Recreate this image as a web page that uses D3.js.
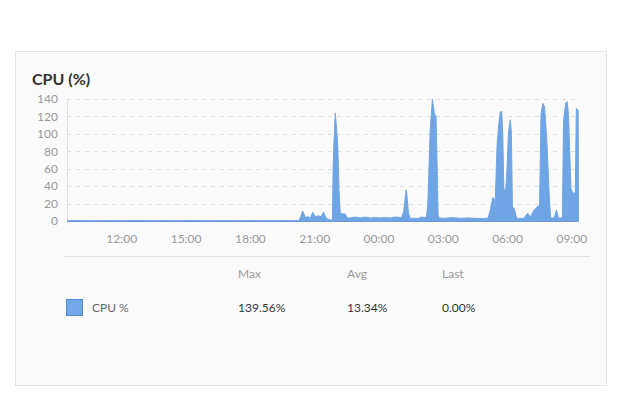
<!DOCTYPE html>
<html>
<head>
<meta charset="utf-8">
<script src="https://cdn.jsdelivr.net/npm/d3@7/dist/d3.min.js"></script>
<style>
  html, body { margin: 0; padding: 0; background: #fff; }
  svg { display: block; font-family: Lato, "Open Sans", sans-serif; }
</style>
</head>
<body>
<svg id="chart" width="623" height="396"></svg>
<script>
// sample times (day 1 -> day 2) and CPU % values
const times = [
  "2024-05-14T09:28", "2024-05-14T10:00", "2024-05-14T10:40", "2024-05-14T11:20", "2024-05-14T12:00",
  "2024-05-14T12:40", "2024-05-14T13:20", "2024-05-14T14:00", "2024-05-14T14:40", "2024-05-14T15:20",
  "2024-05-14T16:00", "2024-05-14T16:40", "2024-05-14T17:20", "2024-05-14T18:00", "2024-05-14T18:40",
  "2024-05-14T19:20", "2024-05-14T20:00", "2024-05-14T20:18", "2024-05-14T20:22", "2024-05-14T20:28",
  "2024-05-14T20:35", "2024-05-14T20:43", "2024-05-14T20:49", "2024-05-14T20:56", "2024-05-14T21:03",
  "2024-05-14T21:12", "2024-05-14T21:19", "2024-05-14T21:26", "2024-05-14T21:34", "2024-05-14T21:43",
  "2024-05-14T21:51", "2024-05-14T21:53", "2024-05-14T21:55", "2024-05-14T21:59", "2024-05-14T22:02",
  "2024-05-14T22:06", "2024-05-14T22:10", "2024-05-14T22:13", "2024-05-14T22:21", "2024-05-14T22:27",
  "2024-05-14T22:32", "2024-05-14T22:41", "2024-05-14T22:55", "2024-05-14T23:09", "2024-05-14T23:23",
  "2024-05-14T23:37", "2024-05-14T23:51", "2024-05-15T00:05", "2024-05-15T00:19", "2024-05-15T00:33",
  "2024-05-15T00:47", "2024-05-15T01:05", "2024-05-15T01:11", "2024-05-15T01:17", "2024-05-15T01:19",
  "2024-05-15T01:24", "2024-05-15T01:29", "2024-05-15T01:51", "2024-05-15T02:01", "2024-05-15T02:14",
  "2024-05-15T02:18", "2024-05-15T02:25", "2024-05-15T02:30", "2024-05-15T02:31", "2024-05-15T02:37",
  "2024-05-15T02:41", "2024-05-15T02:44", "2024-05-15T02:47", "2024-05-15T02:50", "2024-05-15T03:07",
  "2024-05-15T03:26", "2024-05-15T03:49", "2024-05-15T04:11", "2024-05-15T04:34", "2024-05-15T04:56",
  "2024-05-15T05:07", "2024-05-15T05:13", "2024-05-15T05:20", "2024-05-15T05:27", "2024-05-15T05:32",
  "2024-05-15T05:36", "2024-05-15T05:41", "2024-05-15T05:45", "2024-05-15T05:48", "2024-05-15T05:51",
  "2024-05-15T05:56", "2024-05-15T06:00", "2024-05-15T06:04", "2024-05-15T06:09", "2024-05-15T06:12",
  "2024-05-15T06:15", "2024-05-15T06:20", "2024-05-15T06:26", "2024-05-15T06:32", "2024-05-15T06:46",
  "2024-05-15T06:58", "2024-05-15T07:05", "2024-05-15T07:14", "2024-05-15T07:25", "2024-05-15T07:31",
  "2024-05-15T07:35", "2024-05-15T07:40", "2024-05-15T07:45", "2024-05-15T07:52", "2024-05-15T07:58",
  "2024-05-15T08:02", "2024-05-15T08:12", "2024-05-15T08:18", "2024-05-15T08:24", "2024-05-15T08:35",
  "2024-05-15T08:38", "2024-05-15T08:44", "2024-05-15T08:48", "2024-05-15T08:52", "2024-05-15T08:59",
  "2024-05-15T09:04", "2024-05-15T09:11", "2024-05-15T09:14", "2024-05-15T09:19", "2024-05-15T09:20"
];
const cpu = [
  0.4, 0.5, 0.3, 0.5, 0.4,
  0.6, 0.3, 0.5, 0.4, 0.6,
  0.3, 0.5, 0.4, 0.5, 0.3,
  0.5, 0.4, 0.5, 5, 11.5,
  4, 5, 3, 10, 5,
  6, 5, 10, 3, 1.5,
  1, 60, 87, 124, 110,
  87, 30, 9, 8, 8,
  3.5, 3.5, 4.5, 3.5, 4.5,
  3.5, 4, 3.5, 4, 3.5,
  4.5, 4, 12, 35.6, 33,
  9, 3, 3, 4.5, 4,
  18, 106, 134, 139.56, 122,
  121, 68, 7, 3.5, 3,
  4, 3, 3.5, 3, 3,
  3.5, 12.6, 27, 23, 87,
  108, 125, 126, 99, 37.5,
  34, 60, 102, 116, 102,
  16, 14.5, 4, 3, 3,
  9, 4.5, 11.5, 16.5, 18,
  122, 135, 131, 87, 30,
  3.5, 3.5, 12.6, 3.5, 3.5,
  114, 135, 137, 122, 37.5,
  32, 32, 129, 127, 0
];
const yTicks = [0, 20, 40, 60, 80, 100, 120, 140];
const statLabels = ["Max", "Avg", "Last"];
const statValues = ["139.56%", "13.34%", "0.00%"];
const seriesName = "CPU %";

const parse = d3.timeParse("%Y-%m-%dT%H:%M");
const data = times.map((t, i) => ({ t: parse(t), v: cpu[i] }));

const svg = d3.select("#chart");
const blue = "#70a5e5";

// card
svg.append("rect")
  .attr("x", 15.5).attr("y", 51.5)
  .attr("width", 591).attr("height", 334)
  .attr("fill", "#fbfbfb")
  .attr("stroke", "#e3e3e3");

svg.append("text")
  .attr("x", 32).attr("y", 85)
  .attr("font-size", 16).attr("font-weight", 700)
  .attr("fill", "#333")
  .text("CPU (%)");

const plotL = 67, plotR = 578.5, plotT = 99, plotB = 221;

const x = d3.scaleTime()
  .domain(d3.extent(data, d => d.t))
  .range([plotL, plotR]);
const y = d3.scaleLinear()
  .domain([0, 140])
  .range([plotB, plotT]);

// grid
svg.append("g")
  .selectAll("line")
  .data(yTicks.filter(d => d > 0))
  .join("line")
  .attr("x1", plotL).attr("x2", plotR)
  .attr("y1", d => Math.round(y(d)) + 0.5).attr("y2", d => Math.round(y(d)) + 0.5)
  .attr("stroke", "#dedede")
  .attr("stroke-dasharray", "4,5");

// y axis
const yAxis = svg.append("g")
  .attr("transform", `translate(${plotL},0)`)
  .call(d3.axisLeft(y).tickValues(yTicks).tickSize(0).tickPadding(9));
yAxis.select(".domain").attr("stroke", "#e2e2e2");
yAxis.selectAll("text")
  .attr("font-family", "Lato, sans-serif")
  .attr("font-size", 12)
  .attr("fill", "#999");

// x axis
const xAxis = svg.append("g")
  .attr("transform", `translate(0,${plotB})`)
  .call(d3.axisBottom(x)
    .ticks(d3.timeHour.every(3))
    .tickFormat(d3.timeFormat("%H:%M"))
    .tickSize(0).tickPadding(13));
xAxis.select(".domain").remove();
xAxis.selectAll("text")
  .attr("font-family", "Lato, sans-serif")
  .attr("font-size", 12)
  .attr("fill", "#999");

// area
const area = d3.area()
  .x(d => x(d.t))
  .y0(y(0))
  .y1(d => y(d.v));
const line = d3.line()
  .x(d => x(d.t))
  .y(d => y(d.v));

svg.append("path")
  .datum(data)
  .attr("d", area)
  .attr("fill", blue);
svg.append("path")
  .datum(data)
  .attr("d", line)
  .attr("fill", "none")
  .attr("stroke", blue)
  .attr("stroke-width", 1);
svg.append("line")
  .attr("x1", plotL).attr("x2", plotR)
  .attr("y1", plotB + 0.5).attr("y2", plotB + 0.5)
  .attr("stroke", "#6d9ad6");

// legend table
svg.append("line")
  .attr("x1", 64).attr("x2", 590)
  .attr("y1", 256.5).attr("y2", 256.5)
  .attr("stroke", "#e3e3e3");

const colX = [238, 347, 442];
svg.append("g")
  .selectAll("text")
  .data(statLabels)
  .join("text")
  .attr("x", (d, i) => colX[i]).attr("y", 278)
  .attr("font-size", 12).attr("fill", "#999")
  .text(d => d);

svg.append("rect")
  .attr("x", 66.5).attr("y", 299.5)
  .attr("width", 16).attr("height", 16)
  .attr("fill", "#73a7e7")
  .attr("stroke", "#4f8ad8");

svg.append("text")
  .attr("x", 92).attr("y", 312)
  .attr("font-size", 12).attr("fill", "#666")
  .text(seriesName);

svg.append("g")
  .selectAll("text")
  .data(statValues)
  .join("text")
  .attr("x", (d, i) => colX[i]).attr("y", 312)
  .attr("font-size", 12).attr("fill", "#333")
  .text(d => d);
</script>
</body>
</html>
